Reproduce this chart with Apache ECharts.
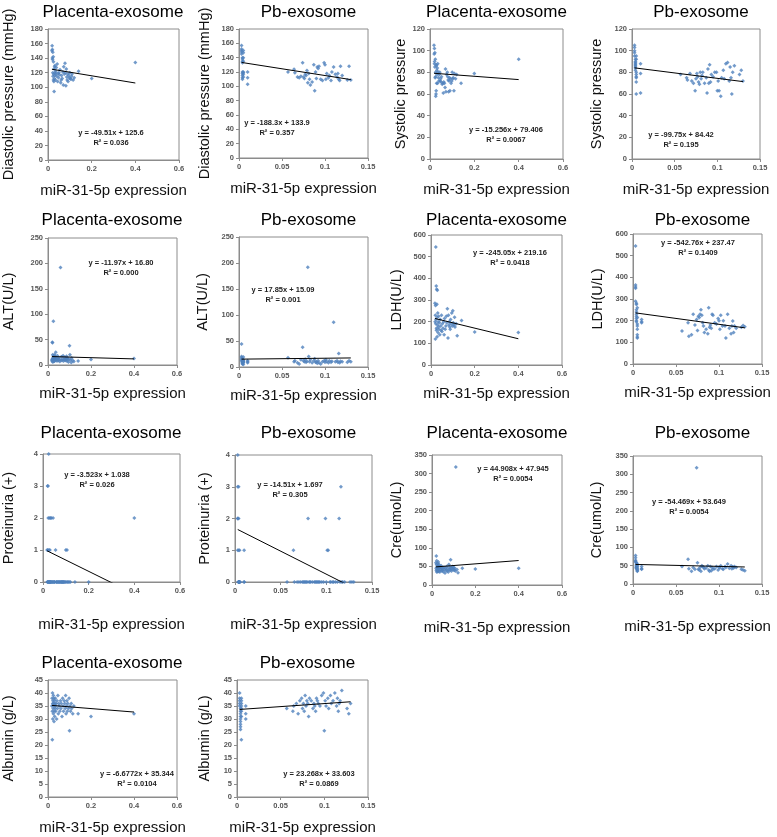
<!DOCTYPE html>
<html>
<head>
<meta charset="utf-8">
<script src="https://cdn.jsdelivr.net/npm/echarts@6/dist/echarts.min.js"></script>
<style>
html, body { margin: 0; padding: 0; background: #fff; }
#chart { width: 777px; height: 837px; }
</style>
</head>
<body>
<div id="chart"></div>
<script>
// x values (miR-31-5p expression), one per patient
const placentaX = [
  0.018, 0.019, 0.020, 0.020, 0.021, 0.022, 0.022, 0.023, 0.024, 0.025,
  0.025, 0.026, 0.027, 0.028, 0.028, 0.029, 0.030, 0.031, 0.032, 0.033,
  0.034, 0.035, 0.036, 0.038, 0.040, 0.042, 0.044, 0.046, 0.048, 0.050,
  0.052, 0.055, 0.058, 0.060, 0.062, 0.065, 0.068, 0.070, 0.072, 0.075,
  0.078, 0.080, 0.082, 0.084, 0.086, 0.088, 0.090, 0.092, 0.095, 0.098,
  0.100, 0.102, 0.105, 0.108, 0.110, 0.115, 0.120, 0.140, 0.200, 0.400
];
const pbX = [
  0.003, 0.003, 0.003, 0.003, 0.003, 0.004, 0.004, 0.004, 0.004, 0.004,
  0.004, 0.004, 0.004, 0.004, 0.005, 0.005, 0.005, 0.005, 0.005, 0.005,
  0.005, 0.005, 0.010, 0.010, 0.010,
  0.057, 0.064, 0.065, 0.068, 0.070, 0.072, 0.074, 0.075, 0.076, 0.077,
  0.078, 0.079, 0.080, 0.081, 0.082, 0.083, 0.085, 0.087, 0.088, 0.089,
  0.090, 0.091, 0.092, 0.093, 0.095, 0.097, 0.099, 0.100, 0.101, 0.102,
  0.104, 0.105, 0.107, 0.108, 0.110, 0.112, 0.114, 0.115, 0.116, 0.117,
  0.118, 0.120, 0.126, 0.128, 0.130
];

// clinical values, placenta group
const diastolicPlacenta = [
  150, 157, 140, 152, 138, 120, 148, 115, 142, 110,
  135, 118, 108, 125, 94, 112, 128, 116, 130, 120,
  110, 122, 118, 127, 115, 132, 108, 119, 113, 120,
  117, 124, 106, 110, 116, 112, 121, 103, 128, 118,
  133, 120, 102, 125, 114, 110, 118, 108, 116, 113,
  120, 112, 111, 115, 118, 110, 113, 122, 112, 134
];
const systolicPlacenta = [
  105, 97, 88, 102, 90, 85, 98, 75, 92, 76,
  80, 58, 60, 87, 63, 86, 70, 82, 78, 84,
  70, 88, 80, 75, 72, 78, 80, 72, 74, 71,
  76, 69, 70, 61, 71, 70, 66, 83, 62, 78,
  80, 76, 73, 62, 72, 75, 63, 74, 70, 72,
  80, 74, 75, 63, 79, 74, 78, 70, 79, 92
];
const altPlacenta = [
  10, 8, 45, 12, 44, 20, 6, 14, 9, 86,
  11, 18, 7, 15, 10, 12, 8, 20, 14, 9,
  16, 11, 25, 13, 10, 8, 18, 12, 9, 14,
  11, 7, 192, 10, 16, 9, 12, 18, 8, 11,
  15, 9, 13, 10, 17, 8, 12, 14, 6, 11,
  38, 20, 10, 5, 14, 9, 7, 8, 11, 13
];
const ldhPlacenta = [
  285, 200, 230, 120, 275, 190, 545, 210, 365, 170,
  160, 350, 280, 130, 220, 345, 185, 240, 150, 200,
  175, 225, 165, 195, 140, 210, 180, 160, 230, 155,
  190, 170, 200, 140, 215, 165, 180, 225, 195, 260,
  125, 230, 185, 200, 175, 165, 210, 190, 240, 180,
  250, 195, 185, 220, 175, 190, 135, 205, 152, 150
];
const proteinuriaPlacenta = [
  1, 0, 3, 0, 1, 0, 3, 2, 0, 4,
  0, 1, 0, 2, 0, 0, 1, 0, 0, 2,
  0, 0, 2, 0, 0, 0, 2, 0, 0, 0,
  0, 1, 0, 0, 0, 0, 0, 0, 0, 0,
  0, 0, 0, 0, 0, 0, 0, 0, 0, 0,
  1, 0, 1, 0, 0, 0, 0, 0, 0, 2
];
const crePlacenta = [
  60, 45, 78, 40, 55, 35, 65, 48, 38, 52,
  42, 58, 36, 50, 45, 62, 40, 47, 55, 38,
  44, 50, 35, 48, 42, 52, 46, 38, 40, 45,
  36, 48, 42, 32, 45, 40, 50, 38, 44, 35,
  55, 42, 48, 40, 68, 46, 38, 44, 50, 42,
  47, 40, 45, 38, 318, 42, 33, 45, 43, 45
];
const albuminPlacenta = [
  35, 38, 22, 33, 40, 36, 30, 37, 34, 39,
  32, 36, 38, 29, 35, 33, 37, 31, 36, 34,
  38, 35, 33, 36, 30, 37, 34, 39, 32, 36,
  35, 33, 37, 34, 36, 31, 38, 35, 33, 37,
  36, 34, 39, 32, 35, 37, 33, 36, 34, 38,
  25.5, 35, 33, 36, 34, 32, 35, 32, 31, 32
];

// clinical values, Pb group
const diastolicPb = [
  157, 152, 150, 148, 145, 140, 138, 135, 133, 120, 118, 115, 112, 110, 120,
  140, 150, 147, 135, 119, 117, 113, 112, 103, 120,
  120, 124, 119, 113, 112, 114, 133, 113, 111, 117,
  115, 122, 105, 118, 110, 102, 106, 130, 94, 120,
  111, 127, 125, 128, 110, 108, 133, 130, 110, 118,
  112, 115, 108, 120, 127, 117, 113, 118, 110, 108,
  128, 115, 109, 128, 109
];
const systolicPb = [
  105, 103, 100, 98, 95, 92, 90, 89, 88, 87, 86, 85, 84, 82, 80,
  78, 76, 75, 71, 60, 92, 95, 61, 79, 88,
  78, 75, 73, 79, 72, 70, 63, 74, 79, 76,
  71, 69, 80, 74, 77, 80, 70, 75, 61, 83,
  70, 87, 71, 78, 76, 80, 80, 63, 72, 63,
  58, 75, 82, 74, 88, 89, 72, 85, 75, 60,
  80, 86, 78, 82, 72
];
const altPb = [
  44, 20, 18, 15, 12, 10, 8, 6, 14, 9, 11, 13, 7, 16, 19,
  10, 12, 5, 8, 14, 9, 11, 10, 12, 8,
  18, 10, 12, 8, 6, 14, 38, 12, 10, 15,
  9, 11, 192, 20, 10, 14, 8, 12, 16, 9,
  10, 7, 12, 8, 6, 10, 12, 9, 14, 10,
  8, 12, 9, 11, 86, 10, 12, 9, 26, 8,
  11, 10, 9, 12, 10
];
const ldhPb = [
  545, 365, 350, 355, 290, 280, 275, 250, 240, 230, 220, 210, 200, 195, 185,
  175, 160, 135, 125, 120, 260, 215, 190, 195, 205,
  152, 190, 128, 135, 230, 180, 205, 155, 220, 215,
  230, 250, 225, 190, 175, 145, 160, 140, 260, 170,
  180, 165, 230, 225, 190, 185, 210, 200, 160, 225,
  175, 200, 175, 120, 230, 165, 140, 175, 198, 145,
  175, 165, 170, 178, 172
];
const proteinuriaPb = [
  4, 3, 2, 2, 1, 0, 0, 1, 0, 0, 3, 0, 0, 2, 0,
  0, 0, 1, 0, 0, 0, 0, 1, 0, 0,
  0, 1, 0, 0, 0, 0, 0, 0, 0, 0,
  0, 0, 2, 0, 0, 0, 0, 0, 0, 0,
  0, 0, 0, 0, 0, 0, 2, 0, 1, 1,
  0, 0, 0, 0, 0, 0, 2, 0, 3, 0,
  0, 0, 0, 0, 0
];
const crePb = [
  78, 72, 65, 62, 60, 58, 55, 52, 50, 48, 46, 45, 44, 42, 40,
  38, 36, 35, 55, 50, 47, 43, 48, 42, 40,
  48, 68, 42, 35, 45, 40, 318, 58, 40, 38,
  45, 35, 50, 48, 46, 42, 44, 50, 38, 35,
  48, 36, 45, 40, 42, 48, 38, 46, 44, 50,
  42, 40, 48, 45, 55, 43, 50, 42, 47, 44,
  48, 45, 40, 38, 36
];
const albuminPb = [
  40, 38, 37, 36, 35, 34, 33, 32, 31, 30, 29, 28, 27, 26, 22,
  35, 36, 33, 31, 38, 37, 34, 32, 30, 35,
  34, 33, 35, 36, 32, 37, 38, 34, 36, 33,
  39, 35, 37, 36, 31, 38, 37, 34, 36, 35,
  33, 38, 37, 36, 35, 39, 40, 25.5, 37, 35,
  38, 34, 39, 36, 37, 40, 35, 38, 33, 36,
  37, 41, 34, 32, 36
];

// panel titles, axis names and linear trend (slope, intercept, R²)
const titles = ['Placenta-exosome', 'Pb-exosome', 'Placenta-exosome', 'Pb-exosome',
  'Placenta-exosome', 'Pb-exosome', 'Placenta-exosome', 'Pb-exosome',
  'Placenta-exosome', 'Pb-exosome', 'Placenta-exosome', 'Pb-exosome',
  'Placenta-exosome', 'Pb-exosome'];
const yNames = ['Diastolic pressure (mmHg)', 'Diastolic pressure (mmHg)', 'Systolic pressure', 'Systolic pressure',
  'ALT(U/L)', 'ALT(U/L)', 'LDH(U/L)', 'LDH(U/L)',
  'Proteinuria (+)', 'Proteinuria (+)', 'Cre(umol/L)', 'Cre(umol/L)',
  'Albumin (g/L)', 'Albumin (g/L)'];
const xName = 'miR-31-5p expression';
const slopes = [-49.51, -188.3, -15.256, -99.75, -11.97, 17.85, -245.05, -542.76, -3.523, -14.51, 44.908, -54.469, -6.6772, 23.268];
const intercepts = [125.6, 133.9, 79.406, 84.42, 16.80, 15.09, 219.16, 237.47, 1.038, 1.697, 47.945, 53.649, 35.344, 33.603];
const eqTexts = ['y = -49.51x + 125.6', 'y = -188.3x + 133.9', 'y = -15.256x + 79.406', 'y = -99.75x + 84.42',
  'y = -11.97x + 16.80', 'y = 17.85x + 15.09', 'y = -245.05x + 219.16', 'y = -542.76x + 237.47',
  'y = -3.523x + 1.038', 'y = -14.51x + 1.697', 'y = 44.908x + 47.945', 'y = -54.469x + 53.649',
  'y = -6.6772x + 35.344', 'y = 23.268x + 33.603'];
const r2Texts = ['R² = 0.036', 'R² = 0.357', 'R² = 0.0067', 'R² = 0.195',
  'R² = 0.000', 'R² = 0.001', 'R² = 0.0418', 'R² = 0.1409',
  'R² = 0.026', 'R² = 0.305', 'R² = 0.0054', 'R² = 0.0054',
  'R² = 0.0104', 'R² = 0.0869'];
const yMax = [180, 180, 120, 120, 250, 250, 600, 600, 4, 4, 350, 350, 45, 45];
const yStep = [20, 20, 20, 20, 50, 50, 100, 100, 1, 1, 50, 50, 5, 5];
const xMaxPlacenta = 0.6, xStepPlacenta = 0.2;
const xMaxPb = 0.15, xStepPb = 0.05;

const yValues = [diastolicPlacenta, diastolicPb, systolicPlacenta, systolicPb,
  altPlacenta, altPb, ldhPlacenta, ldhPb,
  proteinuriaPlacenta, proteinuriaPb, crePlacenta, crePb,
  albuminPlacenta, albuminPb];

// layout: plot box [left, top, width, height], name gaps, equation centre
const boxes = [
  [47, 29, 132, 131], [239, 29, 129, 129], [430, 29, 133, 130], [632, 29, 128, 130],
  [47, 238, 130, 127], [239, 237, 129, 130], [431, 235, 131, 130], [633, 234, 129, 130],
  [42, 454, 138, 128], [235, 455, 137, 127], [432, 455, 130, 130], [633, 456, 129, 128],
  [47, 680, 130, 117], [237, 680, 131, 117]
];
const yGaps = [32, 27, 21, 28, 32, 29, 27, 28, 27, 23, 28, 29, 32, 25];
const xGaps = [23, 23, 23, 23, 21, 21, 21, 21, 35, 35, 35, 35, 23, 23];
const eqPos = [
  [111, 133], [277, 123], [506, 130], [681, 135],
  [121, 263], [283, 290], [510, 253], [698, 243],
  [97, 475], [290, 485], [513, 469], [689, 502],
  [137, 774], [319, 774]
];
const titleY = [12, 12, 12, 12, 220, 220, 220, 220, 433, 433, 433, 433, 663, 663];
const titleShift = [0, 5, 0, 5, 0, 5, 0, 5, 0, 5, 0, 5, 0, 5];

const FONT = '"Liberation Sans", Arial, sans-serif';
const AXIS_COLOR = '#8c8c8c';
const DOT_COLOR = '#4f81bd';

const grids = [], xAxes = [], yAxes = [], series = [], graphics = [];

for (let i = 0; i < 14; i++) {
  const isPb = i % 2 === 1;
  const xs = isPb ? pbX : placentaX;
  const ys = yValues[i];
  const b = boxes[i];

  grids.push({
    left: b[0], top: b[1], width: b[2], height: b[3],
    show: true, borderColor: AXIS_COLOR, borderWidth: 1, backgroundColor: '#fff'
  });

  xAxes.push({
    gridIndex: i, type: 'value', min: 0,
    max: isPb ? xMaxPb : xMaxPlacenta,
    interval: isPb ? xStepPb : xStepPlacenta,
    name: xName, nameLocation: 'middle', nameGap: xGaps[i],
    nameTextStyle: { fontSize: 15, fontFamily: FONT, color: '#111' },
    axisLine: { show: true, onZero: false, lineStyle: { color: AXIS_COLOR } },
    axisTick: { show: true, inside: false, length: 3, lineStyle: { color: AXIS_COLOR } },
    axisLabel: { fontSize: 7.5, fontWeight: 'bold', color: '#555', fontFamily: FONT, margin: 5 },
    splitLine: { show: false }
  });

  yAxes.push({
    gridIndex: i, type: 'value', min: 0, max: yMax[i], interval: yStep[i],
    name: yNames[i], nameLocation: 'middle', nameGap: yGaps[i],
    nameTextStyle: { fontSize: 14.5, fontFamily: FONT, color: '#111' },
    axisLine: { show: true, onZero: false, lineStyle: { color: AXIS_COLOR } },
    axisTick: { show: true, inside: false, length: 3, lineStyle: { color: AXIS_COLOR } },
    axisLabel: { fontSize: 7.5, fontWeight: 'bold', color: '#555', fontFamily: FONT, margin: 5 },
    splitLine: { show: false }
  });

  series.push({
    type: 'scatter', xAxisIndex: i, yAxisIndex: i,
    symbol: 'diamond', symbolSize: 4,
    itemStyle: { color: DOT_COLOR },
    data: xs.map((x, k) => [x, ys[k]])
  });

  // linear trend over the observed x range
  const x0 = Math.min(...xs), x1 = Math.max(...xs);
  series.push({
    type: 'line', xAxisIndex: i, yAxisIndex: i,
    symbol: 'none', clip: true, silent: true,
    lineStyle: { color: '#000', width: 1 },
    data: [[x0, slopes[i] * x0 + intercepts[i]], [x1, slopes[i] * x1 + intercepts[i]]]
  });

  graphics.push({
    type: 'text', x: b[0] + b[2] / 2 + titleShift[i], y: titleY[i],
    style: { text: titles[i], font: '17px ' + FONT, fill: '#000', textAlign: 'center', textVerticalAlign: 'middle' }
  });
  graphics.push({
    type: 'text', x: eqPos[i][0], y: eqPos[i][1],
    style: { text: eqTexts[i], font: 'bold 7.5px ' + FONT, fill: '#222', textAlign: 'center', textVerticalAlign: 'middle' }
  });
  graphics.push({
    type: 'text', x: eqPos[i][0], y: eqPos[i][1] + 10,
    style: { text: r2Texts[i], font: 'bold 7.5px ' + FONT, fill: '#222', textAlign: 'center', textVerticalAlign: 'middle' }
  });
}

const chart = echarts.init(document.getElementById('chart'), null, { renderer: 'canvas' });
chart.setOption({
  backgroundColor: '#fff',
  animation: false,
  grid: grids,
  xAxis: xAxes,
  yAxis: yAxes,
  series: series,
  graphic: graphics
});
</script>
</body>
</html>
